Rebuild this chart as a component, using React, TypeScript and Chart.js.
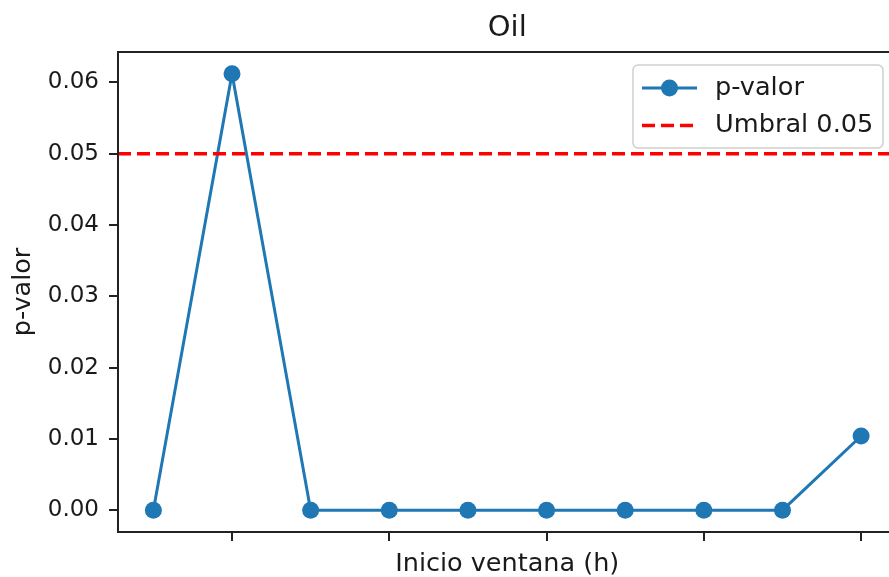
import React, { useEffect, useRef } from 'react';
import { Chart, registerables } from 'chart.js';

Chart.register(...registerables);

const chartTitle = 'Oil';
const xAxisLabel = 'Inicio ventana (h)';
const yAxisLabel = 'p-valor';
const windowIndex = [0, 1, 2, 3, 4, 5, 6, 7, 8, 9];
const pValues = [0.0, 0.0612, 0.0, 0.0, 0.0, 0.0, 0.0, 0.0, 0.0, 0.0104];
const threshold = 0.05;
const seriesLabel = 'p-valor';
const thresholdLabel = 'Umbral 0.05';
const xTickPositions = [1, 3, 5, 7, 9];
const yTickStep = 0.01;

const FONT = '"DejaVu Sans", "Liberation Sans", sans-serif';
const TEXT = '#1a1a1a';

export default function App() {
  const ref = useRef<HTMLCanvasElement | null>(null);

  useEffect(() => {
    const canvas = ref.current;
    if (!canvas) return;

    const xSpan = windowIndex[windowIndex.length - 1] - windowIndex[0];
    const xMin = windowIndex[0] - 0.05 * xSpan;
    const xMax = windowIndex[windowIndex.length - 1] + 0.05 * xSpan;
    const yLo = Math.min(...pValues);
    const yHi = Math.max(...pValues);
    const yMin = yLo - 0.05 * (yHi - yLo);
    const yMax = yHi + 0.05 * (yHi - yLo);

    const decorations = {
      id: 'decorations',
      afterDatasetsDraw(chart: any) {
        const { ctx, chartArea } = chart;
        const { left, right, top, bottom } = chartArea;
        ctx.save();
        ctx.strokeStyle = '#222';
        ctx.lineWidth = 2;
        ctx.beginPath();
        ctx.moveTo(right + 1, top);
        ctx.lineTo(left, top);
        ctx.lineTo(left, bottom);
        ctx.lineTo(right + 1, bottom);
        ctx.stroke();

        // legend
        const bx = 633, by = 65, bw = 250, bh = 83;
        ctx.beginPath();
        (ctx as any).roundRect(bx, by, bw, bh, 5);
        ctx.fillStyle = 'rgba(255,255,255,0.85)';
        ctx.fill();
        ctx.strokeStyle = '#cfcfcf';
        ctx.lineWidth = 1.5;
        ctx.stroke();

        chart.data.datasets.forEach((ds: any, i: number) => {
          const y = 88 + i * 37.5;
          ctx.save();
          ctx.strokeStyle = ds.borderColor;
          ctx.lineWidth = ds.borderWidth;
          ctx.setLineDash(ds.borderDash || []);
          ctx.beginPath();
          ctx.moveTo(642, y);
          ctx.lineTo(697, y);
          ctx.stroke();
          ctx.restore();
          if (ds.pointRadius > 0) {
            ctx.beginPath();
            ctx.arc(669.5, y, ds.pointRadius, 0, Math.PI * 2);
            ctx.fillStyle = ds.pointBackgroundColor;
            ctx.fill();
          }
          ctx.fillStyle = TEXT;
          ctx.font = `25.6px ${FONT}`;
          ctx.textAlign = 'left';
          ctx.textBaseline = 'middle';
          ctx.fillText(ds.label, 715, y);
        });

        ctx.fillStyle = TEXT;
        ctx.textAlign = 'center';
        ctx.textBaseline = 'alphabetic';
        ctx.font = `29px ${FONT}`;
        ctx.fillText(chartTitle, (left + right) / 2, 36);

        ctx.font = `25.5px ${FONT}`;
        ctx.fillText(xAxisLabel, (left + right) / 2, 571);

        ctx.save();
        ctx.translate(30, (top + bottom) / 2);
        ctx.rotate(-Math.PI / 2);
        ctx.fillText(yAxisLabel, 0, 0);
        ctx.restore();
        ctx.restore();
      },
    };

    const chart = new Chart(canvas, {
      type: 'line',
      data: {
        datasets: [
          {
            label: seriesLabel,
            data: windowIndex.map((x, i) => ({ x, y: pValues[i] })),
            borderColor: '#1f77b4',
            backgroundColor: '#1f77b4',
            borderWidth: 3,
            pointRadius: 8.5,
            pointHoverRadius: 8.5,
            pointBackgroundColor: '#1f77b4',
            pointBorderWidth: 0,
            tension: 0,
            order: 1,
          } as any,
          {
            label: thresholdLabel,
            data: [
              { x: xMin, y: threshold },
              { x: xMax, y: threshold },
            ],
            borderColor: '#ff0000',
            borderWidth: 3.5,
            borderDash: [13, 6],
            pointRadius: 0,
            order: 0,
          } as any,
        ],
      },
      options: {
        animation: false,
        responsive: false,
        devicePixelRatio: 1,
        layout: { padding: { top: 52, right: 5, left: 0, bottom: 0 } },
        plugins: {
          legend: { display: false },
          title: { display: false },
          tooltip: { enabled: false },
        },
        scales: {
          x: {
            type: 'linear',
            min: xMin,
            max: xMax,
            afterFit: (s: any) => {
              s.height = 45;
            },
            afterBuildTicks: (s: any) => {
              s.ticks = xTickPositions.map((v) => ({ value: v }));
            },
            ticks: {
              autoSkip: false,
              callback: () => '',
              font: { family: FONT, size: 22 },
            },
            grid: {
              drawOnChartArea: false,
              drawTicks: true,
              tickLength: 9,
              color: '#222',
              lineWidth: 2,
            },
            border: { display: false },
          },
          y: {
            type: 'linear',
            min: yMin,
            max: yMax,
            afterFit: (s: any) => {
              s.width = 118;
            },
            ticks: {
              stepSize: yTickStep,
              includeBounds: false,
              padding: 10,
              color: TEXT,
              font: { family: FONT, size: 23 },
              callback: (v: any) => Number(v).toFixed(2),
            },
            grid: {
              drawOnChartArea: false,
              drawTicks: true,
              tickLength: 9,
              color: '#222',
              lineWidth: 2,
            },
            border: { display: false },
          },
        },
      } as any,
      plugins: [decorations],
    });

    return () => chart.destroy();
  }, []);

  return (
    <div
      style={{
        position: 'fixed',
        left: 0,
        top: 0,
        width: 889,
        height: 577,
        overflow: 'hidden',
        background: '#fff',
      }}
    >
      <canvas ref={ref} width={905} height={577} style={{ display: 'block' }} />
    </div>
  );
}
